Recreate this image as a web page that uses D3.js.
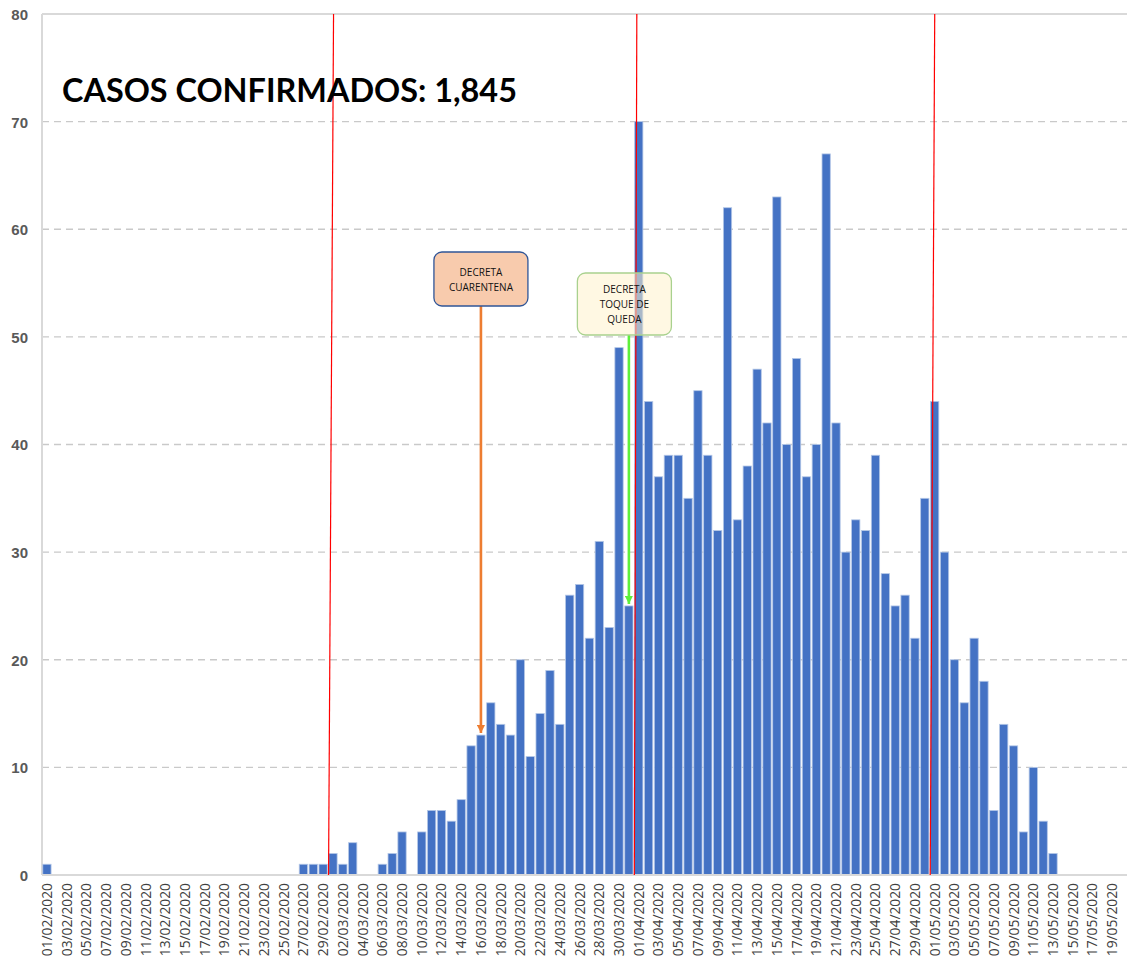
<!DOCTYPE html>
<html>
<head>
<meta charset="utf-8">
<script src="https://cdn.jsdelivr.net/npm/d3@7"></script>
<style>
  body { margin: 0; background: #fff; }
  .x-axis text { font-family: 'Open Sans', sans-serif; font-size: 13.8px; fill: #404040; }
  .y-axis text { font-family: 'Liberation Sans', Arial, sans-serif; font-weight: bold; font-size: 15px; fill: #595959; }
  .note text { font-family: 'Open Sans', sans-serif; font-size: 10px; fill: #111; }
</style>
</head>
<body>
<div class="dataGraph"></div>
<script>
'use strict';

// daily confirmed cases, 01/02/2020 .. 20/05/2020
var firstDay = new Date(2020, 1, 1),
  lastDay = new Date(2020, 4, 21);

var casesFeb = [1, 0, 0, 0, 0, 0, 0, 0, 0, 0, 0, 0, 0, 0, 0, 0, 0, 0, 0, 0, 0, 0, 0, 0, 0, 0, 1, 1, 1];
var casesMar = [2, 1, 3, 0, 0, 1, 2, 4, 0, 4, 6, 6, 5, 7, 12, 13, 16, 14, 13, 20, 11, 15, 19, 14, 26, 27, 22, 31, 23, 49, 25];
var casesApr = [70, 44, 37, 39, 39, 35, 45, 39, 32, 62, 33, 38, 47, 42, 63, 40, 48, 37, 40, 67, 42, 30, 33, 32, 39, 28, 25, 26, 22, 35];
var casesMay = [44, 30, 20, 16, 22, 18, 6, 14, 12, 4, 10, 5, 2, 0, 0, 0, 0, 0, 0, 0];

var yTicks = [0, 10, 20, 30, 40, 50, 60, 70, 80];
var titleText = 'CASOS CONFIRMADOS: 1,845';

// red marker lines at month starts
var markerDates = ['01/03/2020', '01/04/2020', '01/05/2020'];

var notes = [
  {date: '16/03/2020', lines: ['DECRETA', 'CUARENTENA'], fill: '#f8cbad', stroke: '#2f5597', arrow: '#ed7d31'},
  {date: '31/03/2020', lines: ['DECRETA', 'TOQUE DE', 'QUEDA'], fill: '#fff2cc', stroke: '#a9d18e', arrow: '#5ef03c'}
];

var fmt = d3.timeFormat('%d/%m/%Y');
var dates = d3.timeDay.range(firstDay, lastDay).map(fmt);
var values = casesFeb.concat(casesMar, casesApr, casesMay);
var data = dates.map(function(d, i) {
  return {name: d, value: values[i]};
});

var margin = {top: 14, right: 0, bottom: 91, left: 42},
  width = 1127 - margin.left - margin.right,
  height = 966 - margin.top - margin.bottom;

var x = d3.scaleBand()
  .domain(dates)
  .range([0, width])
  .paddingInner(0.16)
  .paddingOuter(0.08);

var y = d3.scaleLinear()
  .domain([0, 80])
  .range([height, 0]);

var svg = d3.select('.dataGraph').append('svg')
  .attr('width', width + margin.left + margin.right)
  .attr('height', height + margin.top + margin.bottom)
  .append('g')
  .attr('transform', 'translate(' + margin.left + ', ' + margin.top + ')');

var defs = svg.append('defs');
notes.forEach(function(n, i) {
  defs.append('marker')
    .attr('id', 'head' + i)
    .attr('viewBox', '0 0 10 10')
    .attr('refX', 10)
    .attr('refY', 5)
    .attr('markerWidth', 3.2)
    .attr('markerHeight', 3.2)
    .attr('orient', 'auto')
    .append('path')
    .attr('d', 'M0,0L10,5L0,10Z')
    .attr('fill', n.arrow);
});

// grid
svg.append('g')
  .selectAll('line')
  .data(yTicks.filter(function(t) { return t > 0 && t < 80; }))
  .enter().append('line')
  .attr('x1', 0)
  .attr('x2', width)
  .attr('y1', function(d) { return y(d); })
  .attr('y2', function(d) { return y(d); })
  .attr('stroke', '#c9c9c9')
  .attr('stroke-width', 1.3)
  .attr('stroke-dasharray', '7,5');

// frame
svg.append('line')
  .attr('x1', 0).attr('x2', width)
  .attr('y1', 0).attr('y2', 0)
  .attr('stroke', '#d9d9d9').attr('stroke-width', 2);
svg.append('line')
  .attr('x1', 0).attr('x2', 0)
  .attr('y1', 0).attr('y2', height)
  .attr('stroke', '#d9d9d9').attr('stroke-width', 2);

// bars
svg.selectAll('.bar')
  .data(data.filter(function(d) { return d.value > 0; }))
  .enter().append('rect')
  .attr('class', 'bar')
  .attr('x', function(d) { return x(d.name); })
  .attr('width', x.bandwidth())
  .attr('y', function(d) { return y(d.value); })
  .attr('height', function(d) { return height - y(d.value); })
  .attr('fill', '#4472c4')
  .attr('stroke', '#b4c7e7')
  .attr('stroke-width', 0.8);

// baseline
svg.append('line')
  .attr('x1', 0).attr('x2', width)
  .attr('y1', height).attr('y2', height)
  .attr('stroke', '#d9d9d9').attr('stroke-width', 2);

// axes
var xAxis = svg.append('g')
  .attr('class', 'x-axis')
  .attr('transform', 'translate(0,' + height + ')')
  .call(d3.axisBottom(x)
    .tickValues(dates.filter(function(d, i) { return i % 2 === 0; }))
    .tickSize(0));
xAxis.select('.domain').remove();
xAxis.selectAll('text')
  .attr('transform', 'rotate(-90)')
  .attr('text-anchor', 'end')
  .attr('x', -8)
  .attr('y', 0)
  .attr('dy', '0.36em');

var yAxis = svg.append('g')
  .attr('class', 'y-axis')
  .call(d3.axisLeft(y).tickValues(yTicks).tickSize(0));
yAxis.select('.domain').remove();
yAxis.selectAll('text')
  .attr('x', -14)
  .attr('dy', '0.36em');

// red marker lines (slightly slanted like the original)
var bandStep = x.step();
svg.selectAll('.marker')
  .data(markerDates)
  .enter().append('line')
  .attr('class', 'marker')
  .attr('x1', function(d) { return x(d) - bandStep * x.paddingInner() / 2 + 0.5; })
  .attr('y1', height)
  .attr('x2', function(d, i) { return x(d) - bandStep * x.paddingInner() / 2 + [5.5, 3, 5][i]; })
  .attr('y2', 0)
  .attr('stroke', '#ff0000')
  .attr('stroke-width', 1.2);

// title
svg.append('text')
  .attr('x', 20)
  .attr('y', 88)
  .attr('font-family', 'Lato, sans-serif')
  .attr('font-weight', 'bold')
  .attr('font-size', '32.4px')
  .attr('fill', '#000')
  .text(titleText);

// annotations
var boxes = [
  {dx: 0, top: 238, w: 94, h: 54, opacity: 1, lineTop: 258},
  {dx: -4.5, top: 259, w: 94, h: 62, opacity: 0.55, lineTop: 275}
];

notes.forEach(function(n, i) {
  var b = boxes[i];
  var cx = x(n.date) + x.bandwidth() / 2;
  var v = values[dates.indexOf(n.date)];
  var g = svg.append('g').attr('class', 'note');

  g.append('line')
    .attr('x1', cx)
    .attr('x2', cx)
    .attr('y1', b.top + b.h)
    .attr('y2', y(v) - 2)
    .attr('stroke', n.arrow)
    .attr('stroke-width', 2.6)
    .attr('marker-end', 'url(#head' + i + ')');

  g.append('rect')
    .attr('x', cx + b.dx - b.w / 2)
    .attr('y', b.top)
    .attr('width', b.w)
    .attr('height', b.h)
    .attr('rx', 8)
    .attr('fill', n.fill)
    .attr('fill-opacity', b.opacity)
    .attr('stroke', n.stroke)
    .attr('stroke-width', 1.3);

  g.selectAll('text')
    .data(n.lines)
    .enter().append('text')
    .attr('x', cx + b.dx)
    .attr('y', function(d, j) { return b.lineTop + j * 15; })
    .attr('dy', '0.35em')
    .attr('text-anchor', 'middle')
    .text(function(d) { return d; });
});
</script>
</body>
</html>
